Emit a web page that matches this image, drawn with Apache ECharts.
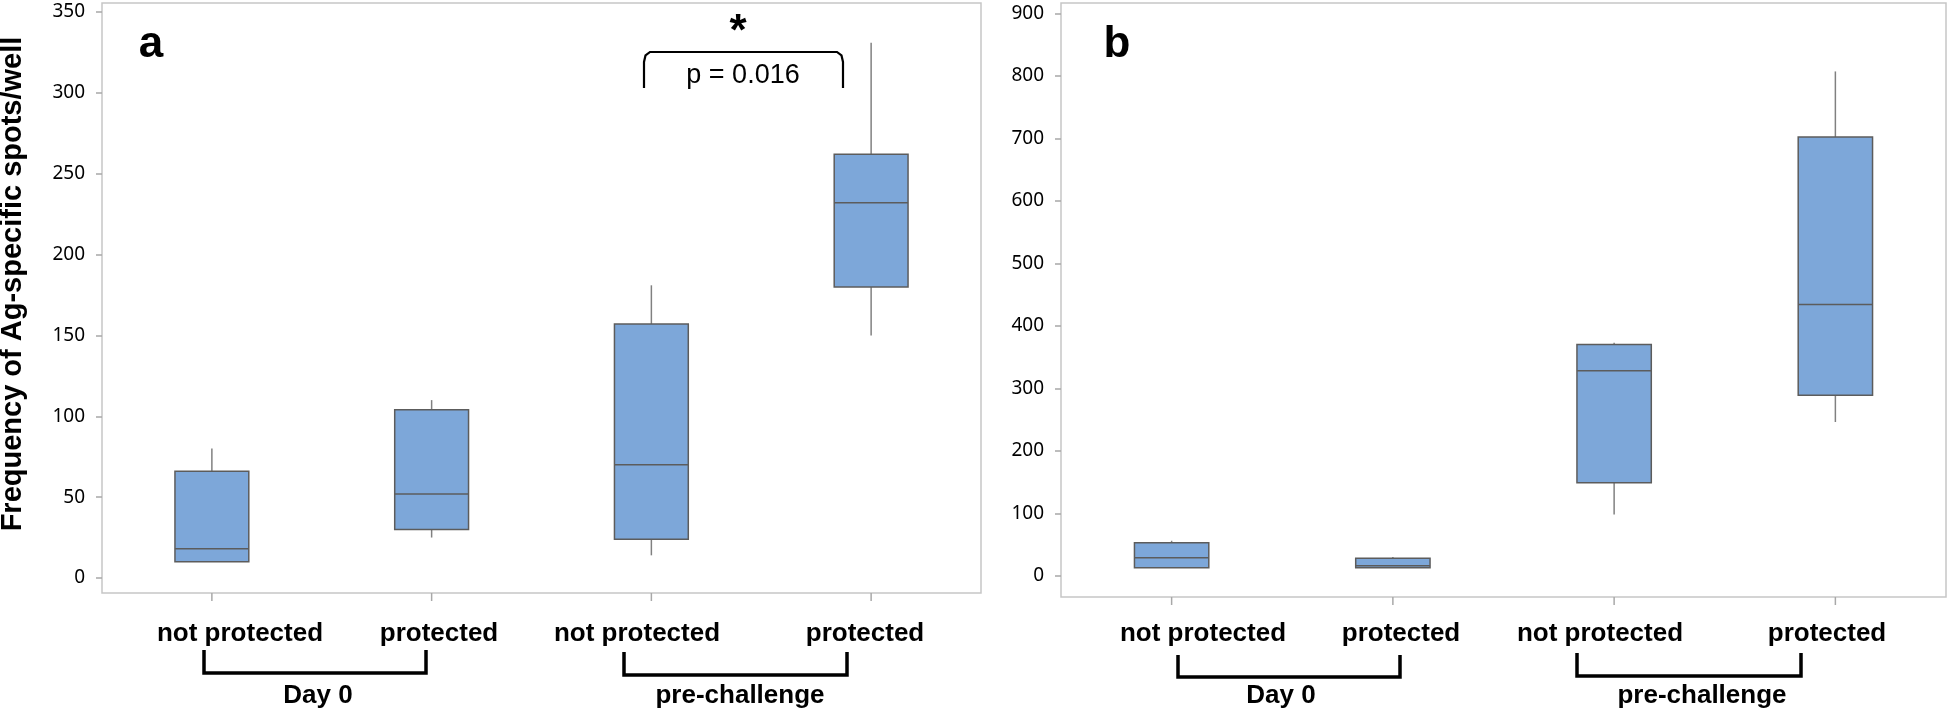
<!DOCTYPE html>
<html>
<head>
<meta charset="utf-8">
<script src="https://cdn.jsdelivr.net/npm/echarts@6.0.0/dist/echarts.min.js"></script>
<style>
html, body { margin: 0; padding: 0; background: #ffffff; }
#chart { width: 1949px; height: 714px; }
</style>
</head>
<body>
<div id="chart"></div>
<script>
// ---- data ----
const categories = ['not protected', 'protected', 'not protected', 'protected'];
const groups = ['Day 0', 'pre-challenge'];

// Panel a: Frequency of Ag-specific spots/well
const aMin = [10, 25, 14, 150];
const aQ1 = [10, 30, 24, 180];
const aMedian = [18, 52, 70, 232];
const aQ3 = [66, 104, 157, 262];
const aMax = [80, 110, 181, 331];
const aTicks = [0, 50, 100, 150, 200, 250, 300, 350];
const aRange = [-9.3, 355.6];

// Panel b
const bMin = [13, 13, 98, 246];
const bQ1 = [13, 13, 149, 289];
const bMedian = [29, 16, 328, 434];
const bQ3 = [53, 28, 370, 702];
const bMax = [56, 30, 373, 807];
const bTicks = [0, 100, 200, 300, 400, 500, 600, 700, 800, 900];
const bRange = [-34, 916.5];

const yTitle = 'Frequency of Ag-specific spots/well';
const pText = 'p = 0.016';

// ---- helpers ----
function buildRows(mn, q1, md, q3, mx) {
  return categories.map((c, i) => [i, mn[i], q1[i], md[i], q3[i], mx[i]]);
}

const BOX_FILL = '#7da7d9';
const BOX_STROKE = '#5c5c5c';
const WHISKER = '#808080';
const FRAME = '#c6c6c6';
const TICK = '#a8a8a8';

function makeRenderer(range) {
  return function (params, api) {
    const i = api.value(0);
    const pMin = api.coord([i, api.value(1)]);
    const pQ1 = api.coord([i, api.value(2)]);
    const pMed = api.coord([i, api.value(3)]);
    const pQ3 = api.coord([i, api.value(4)]);
    const pMax = api.coord([i, api.value(5)]);
    const half = api.size([1, 0])[0] * 0.168;
    const x = pMed[0];
    const bottom = api.coord([i, range[0]])[1];
    const children = [];
    // category tick below the frame
    children.push({ type: 'line', shape: { x1: x, y1: bottom, x2: x, y2: bottom + 8 },
      style: { stroke: TICK, lineWidth: 1.5 } });
    if (pMax[1] < pQ3[1] - 0.5) {
      children.push({ type: 'line', shape: { x1: x, y1: pMax[1], x2: x, y2: pQ3[1] },
        style: { stroke: WHISKER, lineWidth: 1.5 } });
    }
    if (pMin[1] > pQ1[1] + 0.5) {
      children.push({ type: 'line', shape: { x1: x, y1: pQ1[1], x2: x, y2: pMin[1] },
        style: { stroke: WHISKER, lineWidth: 1.5 } });
    }
    children.push({ type: 'rect', shape: { x: x - half, y: pQ3[1], width: half * 2, height: pQ1[1] - pQ3[1] },
      style: { fill: BOX_FILL, stroke: BOX_STROKE, lineWidth: 1.5 } });
    children.push({ type: 'line', shape: { x1: x - half, y1: pMed[1], x2: x + half, y2: pMed[1] },
      style: { stroke: BOX_STROKE, lineWidth: 1.5 } });
    return { type: 'group', children: children };
  };
}

function yAxisDef(gridIndex, range, ticks) {
  return {
    type: 'value', gridIndex: gridIndex, min: range[0], max: range[1],
    position: 'left',
    splitLine: { show: false },
    axisLine: { show: false, onZero: false },
    axisTick: { show: true, inside: false, length: 6, customValues: ticks,
      lineStyle: { color: TICK, width: 1.5 } },
    axisLabel: { show: true, margin: 17, customValues: ticks,
      color: '#000000', fontFamily: '"Noto Sans", "Open Sans", sans-serif', fontSize: 19 }
  };
}

function xAxisDef(gridIndex) {
  return {
    type: 'category', gridIndex: gridIndex, data: categories, boundaryGap: true,
    position: 'bottom',
    axisLine: { show: false, onZero: false },
    axisTick: { show: false },
    axisLabel: { show: false },
    splitLine: { show: false }
  };
}

const BOLD = '"Liberation Sans", Arial, sans-serif';

function txt(text, x, y, size, weight, extra) {
  return Object.assign({
    type: 'text', x: x, y: y, z: 100,
    style: {
      text: text, fill: '#000000',
      font: weight + ' ' + size + 'px ' + BOLD,
      fontSize: size, fontWeight: weight, fontFamily: BOLD,
      align: 'center', verticalAlign: 'middle',
      textAlign: 'center', textVerticalAlign: 'middle'
    }
  }, extra || {});
}

function bracket(x1, x2, yTop, yBot) {
  return {
    type: 'polyline', z: 100,
    shape: { points: [[x1, yTop], [x1, yBot], [x2, yBot], [x2, yTop]] },
    style: { stroke: '#000000', lineWidth: 3.5, fill: null, lineJoin: 'miter' }
  };
}

const graphics = [
  // y axis title
  txt(yTitle, 13, 284, 29, 'bold', { rotation: Math.PI / 2 }),
  // panel letters
  txt('a', 151, 45, 44, 'bold'),
  txt('b', 1117, 45, 44, 'bold'),
  // significance annotation
  txt('*', 738, 33, 44, 'bold'),
  {
    type: 'polyline', z: 100,
    shape: { points: [[644, 88], [644, 62], [645.5, 55.5], [650, 52], [837, 52], [841.5, 55.5], [843, 62], [843, 88]] },
    style: { stroke: '#000000', lineWidth: 2.2, fill: null }
  },
  txt(pText, 743, 76, 27, 'normal'),
  // panel a category labels
  txt(categories[0], 240, 634, 26, 'bold'),
  txt(categories[1], 439, 634, 26, 'bold'),
  txt(categories[2], 637, 634, 26, 'bold'),
  txt(categories[3], 865, 634, 26, 'bold'),
  bracket(204, 426, 650, 673),
  bracket(624, 847, 652, 675),
  txt(groups[0], 318, 696, 26, 'bold'),
  txt(groups[1], 740, 696, 26, 'bold'),
  // panel b category labels
  txt(categories[0], 1203, 634, 26, 'bold'),
  txt(categories[1], 1401, 634, 26, 'bold'),
  txt(categories[2], 1600, 634, 26, 'bold'),
  txt(categories[3], 1827, 634, 26, 'bold'),
  bracket(1178, 1400, 655, 677),
  bracket(1577, 1801, 653, 676),
  txt(groups[0], 1281, 696, 26, 'bold'),
  txt(groups[1], 1702, 696, 26, 'bold')
];

const option = {
  backgroundColor: '#ffffff',
  animation: false,
  grid: [
    { left: 102, top: 3, width: 879, height: 590, show: true, borderColor: FRAME, borderWidth: 1.5, backgroundColor: 'transparent' },
    { left: 1061, top: 3, width: 885, height: 594, show: true, borderColor: FRAME, borderWidth: 1.5, backgroundColor: 'transparent' }
  ],
  xAxis: [xAxisDef(0), xAxisDef(1)],
  yAxis: [yAxisDef(0, aRange, aTicks), yAxisDef(1, bRange, bTicks)],
  series: [
    { type: 'custom', name: 'a', xAxisIndex: 0, yAxisIndex: 0, clip: false,
      renderItem: makeRenderer(aRange), encode: { x: 0, y: [1, 2, 3, 4, 5] },
      data: buildRows(aMin, aQ1, aMedian, aQ3, aMax) },
    { type: 'custom', name: 'b', xAxisIndex: 1, yAxisIndex: 1, clip: false,
      renderItem: makeRenderer(bRange), encode: { x: 0, y: [1, 2, 3, 4, 5] },
      data: buildRows(bMin, bQ1, bMedian, bQ3, bMax) }
  ],
  graphic: { elements: graphics }
};

const chart = echarts.init(document.getElementById('chart'), null, { renderer: 'canvas' });
chart.setOption(option);
</script>
</body>
</html>
